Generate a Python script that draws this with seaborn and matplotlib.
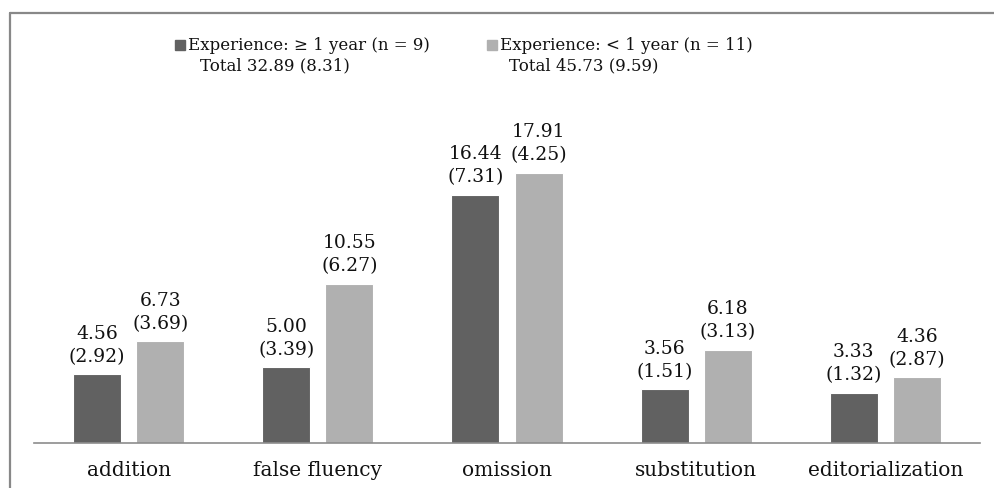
import matplotlib
matplotlib.use('Agg')
import matplotlib.pyplot as plt
import seaborn as sns
import pandas as pd
from matplotlib.lines import Line2D
from matplotlib.patches import Rectangle

# error counts by type, mean (SD)
categories = ['addition', 'false fluency', 'omission', 'substitution', 'editorialization']
groups = ['Experience: \u2265 1 year (n = 9)', 'Experience: < 1 year (n = 11)']
totals = ['Total 32.89 (8.31)', 'Total 45.73 (9.59)']
mean_more = [4.56, 5.00, 16.44, 3.56, 3.33]
sd_more = [2.92, 3.39, 7.31, 1.51, 1.32]
mean_less = [6.73, 10.55, 17.91, 6.18, 4.36]
sd_less = [3.69, 6.27, 4.25, 3.13, 2.87]
colors = ['#616161', '#b0b0b0']

df = pd.DataFrame({
    'type': categories * 2,
    'group': [groups[0]] * 5 + [groups[1]] * 5,
    'mean': mean_more + mean_less,
})

sns.set_style('white')
plt.rcParams['font.family'] = ['DejaVu Serif']

W, H = 995, 488
fig = plt.figure(figsize=(W / 100, H / 100), dpi=100)
ax = fig.add_axes([34 / W, 45 / H, 946 / W, 309.6 / H])

sns.barplot(data=df, x='type', y='mean', hue='group', order=categories,
            hue_order=groups, palette=colors, width=0.667, gap=0.24,
            legend=False, ax=ax, edgecolor='white', linewidth=0.8)

ax.set_xlim(-0.5, 4.5)
ax.set_ylim(0, 20.5)
ax.set_xlabel('')
ax.set_ylabel('')
ax.set_yticks([])
ax.tick_params(axis='x', length=0, pad=13, labelsize=14.5, colors='#111111')
for s in ['top', 'right', 'left']:
    ax.spines[s].set_visible(False)
ax.spines['bottom'].set_color('#8c8c8c')
ax.spines['bottom'].set_linewidth(1.2)

# value labels: mean above, SD in brackets below
for cont, means, sds in zip(ax.containers, [mean_more, mean_less], [sd_more, sd_less]):
    for bar, m, sd in zip(cont, means, sds):
        ax.annotate(f'{m:.2f}\n({sd:.2f})',
                    (bar.get_x() + bar.get_width() / 2, bar.get_height()),
                    xytext=(0, 6), textcoords='offset points',
                    ha='center', va='bottom', ma='center', fontsize=13.5,
                    linespacing=1.35, color='#111111', annotation_clip=False)

# legend drawn by hand: square + two-line text
for (sx, tx, tx2), col, g, t in zip([(175, 188, 200), (487, 500, 509)], colors, groups, totals):
    fig.add_artist(Rectangle((sx / W, 1 - 50 / H), 10 / W, 10 / H,
                             transform=fig.transFigure, color=col))
    fig.text(tx / W, 1 - 45 / H, g, ha='left', va='center', fontsize=12, color='#111111')
    fig.text(tx2 / W, 1 - 66 / H, t, ha='left', va='center', fontsize=12, color='#111111')

# outer frame (top and left edges)
fig.add_artist(Line2D([9.5 / W, 1], [1 - 12.7 / H] * 2, transform=fig.transFigure,
                      color='#888888', lw=1.6))
fig.add_artist(Line2D([9.5 / W] * 2, [0, 1 - 12.7 / H], transform=fig.transFigure,
                      color='#888888', lw=1.6))

fig.savefig('out.png', dpi=100)
